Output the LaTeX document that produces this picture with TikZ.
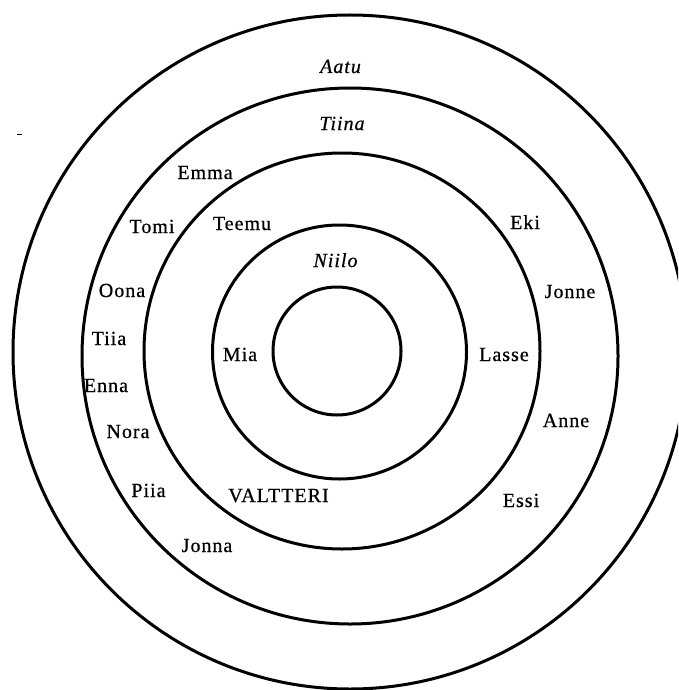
\documentclass[tikz,border=0pt]{standalone}
\usepackage{fontspec}
\setmainfont{Liberation Serif}[LetterSpace=5,FakeBold=0.6]

\begin{document}
\begin{tikzpicture}[x=1pt,y=-1pt,
    ring/.style={line width=3pt},
    who/.style={font=\fontsize{20}{24}\selectfont,inner sep=0pt,anchor=base},
    lead/.style={who,font=\fontsize{20}{24}\selectfont\itshape}]
    \clip (0,0) rectangle (678,690);

    % the rings, outermost first
    \draw[ring] (350,352) circle[radius=337pt];
    \draw[ring] (350,356) circle[radius=268pt];
    \draw[ring] (342,351) circle[radius=198pt];
    \draw[ring] (339.5,352) circle[radius=127pt];
    \draw[ring] (337,351) circle[radius=64pt];
    \draw[line width=1.5pt] (17,134.5) -- (21.5,134.5);

    % names on top
    \node[lead] (aatu) at (340.5,73) {Aatu};
    \node[lead] (tiina) at (342,130) {Tiina};
    \node[lead] (niilo) at (335.5,267) {Niilo};

    % left side
    \node[who] (emma) at (205,179) {Emma};
    \node[who] (tomi) at (152,233) {Tomi};
    \node[who] (teemu) at (242,230) {Teemu};
    \node[who] (oona) at (122,297) {Oona};
    \node[who] (tiia) at (109,345) {Tiia};
    \node[who] (mia) at (240,361) {Mia};
    \node[who] (enna) at (106,392) {Enna};
    \node[who] (nora) at (128,438) {Nora};
    \node[who] (piia) at (148.5,497) {Piia};
    \node[who] (valtteri) at (278.5,502) {VALTTERI};
    \node[who] (jonna) at (207,552) {Jonna};

    % right side
    \node[who] (eki) at (525,229) {Eki};
    \node[who] (jonne) at (570,298) {Jonne};
    \node[who] (lasse) at (504,361) {Lasse};
    \node[who] (anne) at (566,427) {Anne};
    \node[who] (essi) at (521,507) {Essi};
\end{tikzpicture}
\end{document}
